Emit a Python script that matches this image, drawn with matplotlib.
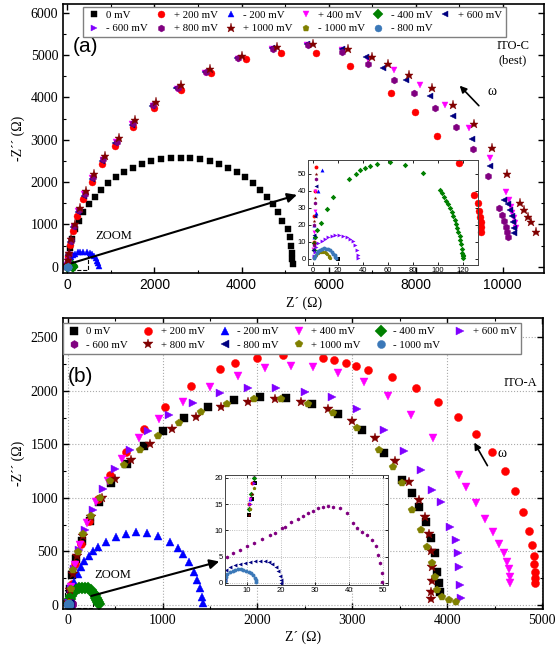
import matplotlib
matplotlib.use("Agg")
import matplotlib.pyplot as plt
from matplotlib.patches import Rectangle
from matplotlib.ticker import MultipleLocator

plt.rcParams['font.family'] = ['Liberation Serif', 'DejaVu Serif']

# ---------------- panel (a) ITO-C ----------------
a_labels = ['0 mV', '+ 200 mV', '- 200 mV', '+ 400 mV', '- 400 mV', '+ 600 mV',
            '- 600 mV', '+ 800 mV', '+ 1000 mV', '- 1000 mV', '- 800 mV']
a_markers = ['s', 'o', '^', 'v', 'D', '<', '>', 'h', '*', 'p', 'o']
a_colors = ['black', '#ff0000', '#0000ff', '#ff00ff', '#008000', '#000080',
            '#8000ff', '#800080', '#800000', '#808000', '#3b78b8']

a0_x = [20, 59, 108, 175, 262, 366, 487, 624, 776, 941, 1119, 1310, 1509, 1718, 1932, 2152, 2375, 2600,
        2825, 3048, 3268, 3482, 3691, 3890, 4081, 4259, 4424, 4576, 4713, 4834, 4938, 5060, 5110, 5140, 5160, 5170, 5175]
a0_y = [0, 449, 668, 882, 1090, 1290, 1480, 1658, 1824, 1976, 2113, 2234, 2338, 2424, 2492, 2541, 2570, 2580,
        2570, 2541, 2492, 2424, 2338, 2234, 2113, 1976, 1824, 1658, 1480, 1290, 1090, 900, 700, 500, 330, 180, 60]
a1_x = [0.5, 1, 1.5, 2, 8, 20, 60, 130, 230, 370, 560, 800, 1100, 1500, 2000, 2600, 3300, 4100, 4900, 5700, 6500,
        7425, 7980, 8500, 8990, 9330, 9420, 9460, 9480, 9490, 9500, 9500]
a1_y = [10, 25, 40, 54, 130, 250, 520, 850, 1200, 1600, 2000, 2420, 2850, 3300, 3750, 4180, 4580, 4900, 5060, 5040, 4750,
        4110, 3660, 3100, 2460, 1700, 1500, 1330, 1180, 1050, 930, 820]
a2_x = [0.5, 1, 2, 4, 7, 15, 30, 55, 90, 130, 180, 240, 300, 370, 440, 510, 570, 620, 660, 690, 710, 720]
a2_y = [13, 20, 27, 40, 52, 90, 140, 190, 240, 280, 315, 340, 352, 356, 350, 330, 295, 250, 200, 140, 80, 20]
a3_x = [0.3, 0.8, 1.3, 1.8, 10, 28, 75, 150, 250, 390, 575, 815, 1115, 1490, 1960, 2520, 3170, 3920, 4710, 5510, 6300,
        6900, 7490, 8090, 8670, 9220, 9700, 10070, 10140, 10190, 10220, 10250, 10270, 10300]
a3_y = [6, 16, 28, 40, 140, 290, 600, 950, 1320, 1710, 2110, 2520, 2940, 3370, 3800, 4210, 4590, 4920, 5150, 5240, 5130,
        4900, 4660, 4300, 3830, 3290, 2580, 1770, 1580, 1420, 1280, 1150, 1030, 920]
a4_x = [0.5, 1, 1.6, 3, 6, 11, 16.3, 29, 34.4, 38, 42, 45.6, 51.5, 61.6, 73.6, 87.7, 102, 103.5, 105, 106.5, 108,
        109.5, 111, 112.3, 113.5, 114.6, 115.6, 116.5, 117.4, 118.1, 118.7, 119.2, 119.6, 119.9, 120.1, 120.2]
a4_y = [5, 9, 13, 17, 21, 29, 36.3, 47, 50, 52, 53.3, 54.3, 55.7, 56.9, 55.3, 50.4, 40.6, 38.5, 36.3, 34.1, 31.9,
        29.6, 27.3, 25, 22.7, 20.4, 18, 15.6, 13.2, 10.8, 8.4, 6, 3.6, 2.5, 1.5, 0.5]
a5_x = [0.3, 0.7, 1.2, 2, 9, 25, 70, 140, 240, 380, 560, 800, 1100, 1480, 1950, 2500, 3150, 3900, 4700, 5500, 6300,
        6850, 7260, 7770, 8320, 8850, 9300, 9700, 10020, 10110, 10160, 10200, 10230, 10250, 10260]
a5_y = [5, 14, 25, 43, 130, 280, 580, 930, 1290, 1680, 2080, 2500, 2920, 3360, 3800, 4220, 4600, 4940, 5180, 5270, 5150,
        4950, 4700, 4420, 4040, 3570, 3020, 2390, 1580, 1480, 1340, 1200, 1070, 920, 800]
a6_x = [0.4, 1.2, 2.5, 4.3, 6.9, 9.6, 12.3, 14.9, 17.6, 21.1, 24.3, 26.9, 29.6, 31.7, 33.6, 34.9, 36.0, 36.3]
a6_y = [1.5, 4.2, 7, 9.2, 10.6, 11.8, 12.7, 13.3, 13.9, 14.1, 13.5, 12.7, 11.6, 10.2, 7.8, 5.3, 2.4, 0.4]
a7_x = [0.4, 0.9, 1.5, 2.2, 11, 30, 80, 155, 260, 400, 590, 830, 1130, 1500, 1970, 2530, 3180, 3930, 4720, 5520, 6300,
        6900, 7490, 7950, 8440, 8920, 9320, 9650, 9910, 9980, 10030, 10070, 10100, 10110]
a7_y = [8, 20, 33, 47, 150, 300, 620, 970, 1340, 1730, 2130, 2540, 2960, 3390, 3820, 4230, 4610, 4930, 5150, 5230, 5080,
        4780, 4420, 4110, 3760, 3310, 2780, 2150, 1390, 1220, 1080, 950, 830, 710]
a8_x = [0.5, 1, 1.6, 2.3, 12, 35, 90, 170, 280, 430, 620, 870, 1180, 1560, 2040, 2610, 3270, 4020, 4820, 5630, 6450,
        7000, 7360, 7840, 8370, 8850, 9330, 9750, 10090, 10390, 10480, 10570, 10640, 10760]
a8_y = [9, 22, 36, 50, 160, 320, 650, 1010, 1390, 1790, 2190, 2610, 3040, 3470, 3900, 4300, 4670, 4980, 5190, 5270, 5150,
        4960, 4780, 4540, 4230, 3830, 3380, 2800, 2200, 1510, 1350, 1180, 1060, 830]
a9_x = [0.5, 1.5, 2.7, 4.0, 5.3, 6.6, 7.9, 9.2, 10.4, 11.5, 12.4, 13.0, 13.4]
a9_y = [0.4, 1.5, 2.5, 3.2, 3.7, 4.0, 4.0, 3.8, 3.3, 2.6, 1.8, 1.0, 0.3]
a10_x = [0.5, 1.5, 2.8, 4.2, 5.8, 7.4, 9.0, 10.6, 12.2, 13.8, 15.2, 16.4, 17.3, 17.9, 18.2]
a10_y = [0.5, 1.8, 3.2, 4.4, 5.3, 5.9, 6.1, 6.0, 5.6, 4.9, 4.0, 3.0, 2.0, 1.1, 0.3]

a_x = [a0_x, a1_x, a2_x, a3_x, a4_x, a5_x, a6_x, a7_x, a8_x, a9_x, a10_x]
a_y = [a0_y, a1_y, a2_y, a3_y, a4_y, a5_y, a6_y, a7_y, a8_y, a9_y, a10_y]

# ---------------- panel (b) ITO-A ----------------
b_labels = ['0 mV', '+ 200 mV', '- 200 mV', '+ 400 mV', '- 400 mV', '+ 600 mV',
            '- 600 mV', '+ 800 mV', '- 800 mV', '+ 1000 mV', '- 1000 mV']
b_markers = ['s', 'o', '^', 'v', 'D', '>', 'h', '*', '<', 'p', 'o']
b_colors = ['black', '#ff0000', '#0000ff', '#ff00ff', '#008000', '#8000ff',
            '#800080', '#800000', '#000080', '#808000', '#3b78b8']

b0_x = [10.5, 11.5, 12.5, 25, 50, 90, 150, 230, 330, 460, 620, 800, 1000, 1230, 1480, 1750, 2030, 2300, 2580,
        2850, 3100, 3330, 3526, 3630, 3704, 3777, 3830, 3872, 3893, 3914, 3924]
b0_y = [13, 16, 19, 150, 280, 430, 600, 780, 960, 1140, 1320, 1480, 1620, 1750, 1850, 1910, 1940, 1930, 1880,
        1780, 1630, 1420, 1166, 1045, 914, 774, 625, 485, 308, 205, 120]
b1_x = [10.5, 11.5, 40, 80, 140, 220, 320, 450, 610, 800, 1030, 1300, 1600, 1763, 2000, 2266, 2686, 2812, 2938,
        3043, 3169, 3420, 3670, 3900, 4110, 4300, 4470, 4610, 4720, 4800, 4860, 4890, 4910, 4920, 4925, 4930, 4930]
b1_y = [15, 19, 190, 380, 570, 780, 990, 1210, 1430, 1640, 1850, 2050, 2200, 2257, 2310, 2332, 2304, 2285, 2257,
        2230, 2192, 2130, 2030, 1900, 1760, 1600, 1430, 1250, 1060, 870, 690, 560, 460, 380, 310, 250, 200]
b2_x = [11, 13, 40, 70, 105, 136, 175, 220, 265, 315, 399, 504, 609, 724, 839, 955, 1081, 1165, 1217, 1280,
        1333, 1364, 1396, 1417, 1427]
b2_y = [16, 25, 120, 210, 290, 350, 410, 460, 505, 540, 590, 634, 662, 676, 674, 645, 590, 532, 476, 401,
        308, 233, 159, 75, 20]
b3_x = [11, 12, 35, 75, 130, 205, 300, 420, 570, 750, 960, 1210, 1500, 1800, 2078, 2350, 2581, 2850, 3120,
        3380, 3620, 3850, 4124, 4197, 4300, 4400, 4480, 4550, 4600, 4630, 4650, 4660, 4665]
b3_y = [16, 20, 170, 370, 560, 760, 960, 1160, 1360, 1560, 1740, 1900, 2040, 2140, 2211, 2230, 2220, 2170, 2080,
        1950, 1770, 1560, 1213, 1100, 950, 800, 680, 570, 480, 400, 330, 260, 200]
b4_x = [10.5, 11.3, 12.2, 14, 20, 35, 60, 90, 120, 150, 180, 210, 240, 265, 285, 300, 312, 320, 325]
b4_y = [14, 17, 20, 30, 50, 85, 115, 138, 153, 160, 160, 152, 135, 112, 88, 65, 42, 22, 5]
b5_x = [11, 12, 30, 65, 115, 180, 265, 370, 500, 660, 850, 1070, 1320, 1600, 1900, 2200, 2500, 2791, 3050,
        3337, 3540, 3725, 3840, 3935, 4030, 4092, 4113, 4125, 4134, 4145]
b5_y = [15, 19, 150, 330, 510, 700, 890, 1080, 1270, 1450, 1620, 1770, 1890, 1980, 2030, 2030, 1990, 1944, 1830,
        1630, 1440, 1259, 1073, 961, 728, 606, 480, 354, 187, 65]
b6_x = [4.2, 6, 8, 10, 12, 14.5, 16.8, 18.2, 20.3, 21.2, 23, 25, 26.5, 27.9, 29.4, 30.9, 32.4, 33.8, 35.3, 37.4,
        39.4, 41.2, 42.5, 43.8, 45.3, 46.8, 47.9, 48.5, 49.1, 49.7, 49.7]
b6_y = [5, 5.7, 6.3, 7, 7.6, 8.3, 9.1, 9.5, 10.5, 10.7, 11.5, 12.2, 12.8, 13.3, 13.7, 14.3, 14.5, 14.7, 14.5, 14.3,
        13.3, 11.4, 10.5, 9.7, 9.1, 8.2, 7, 5.3, 3.8, 1.9, 0.2]
b7_x = [10.5, 11.5, 25, 55, 100, 165, 250, 360, 500, 670, 870, 1100, 1350, 1620, 1900, 2180, 2460, 2740, 3000,
        3240, 3450, 3600, 3700, 3770, 3810, 3830, 3840, 3835, 3830, 3828]
b7_y = [13, 17, 140, 290, 460, 640, 820, 1000, 1180, 1350, 1500, 1640, 1760, 1850, 1900, 1920, 1900, 1830, 1720,
        1560, 1340, 1150, 980, 820, 660, 500, 350, 220, 120, 50]
b8_x = [3.6, 3.7, 4.0, 5, 6.5, 8, 9.5, 11, 12.5, 14, 15.3, 16.5, 17.5, 18.5, 19.2, 19.7, 20, 20.1]
b8_y = [0.5, 1.5, 2.4, 3.0, 3.3, 3.5, 3.7, 3.9, 4.1, 4.2, 4.2, 4.0, 3.6, 3.0, 2.2, 1.3, 0.5, 0.0]
b9_x = [11, 12, 30, 60, 105, 165, 240, 335, 450, 590, 760, 950, 1170, 1410, 1680, 1960, 2250, 2530, 2800,
        3050, 3280, 3430, 3526, 3630, 3725, 3788, 3840, 3872, 3893, 3945, 4018, 4092]
b9_y = [14, 18, 150, 320, 490, 660, 830, 1000, 1160, 1310, 1450, 1580, 1700, 1800, 1880, 1920, 1920, 1880, 1790,
        1650, 1450, 1290, 1138, 886, 700, 541, 392, 261, 140, 75, 47, 28]
b10_x = [3.6, 3.8, 4.3, 5, 5.8, 6.6, 7.4, 8.2, 9, 9.8, 10.6, 11.3, 11.9, 12.3, 12.6, 12.8]
b10_y = [0.3, 1.0, 1.6, 2.0, 2.3, 2.5, 2.6, 2.6, 2.5, 2.3, 2.1, 1.8, 1.4, 0.9, 0.5, 0.1]

b_x = [b0_x, b1_x, b2_x, b3_x, b4_x, b5_x, b6_x, b7_x, b8_x, b9_x, b10_x]
b_y = [b0_y, b1_y, b2_y, b3_y, b4_y, b5_y, b6_y, b7_y, b8_y, b9_y, b10_y]


def row_order(items):
    # legend fills column by column; reorder so it reads row by row
    top, bottom = items[:6], items[6:]
    out = []
    for i in range(6):
        out.append(top[i])
        if i < len(bottom):
            out.append(bottom[i])
    return out


def style_axes(ax, size=10):
    ax.tick_params(which='both', direction='in', top=True, right=True, labelsize=size)
    ax.tick_params(which='major', length=4, width=1)
    ax.tick_params(which='minor', length=2.5, width=0.8)
    for s in ax.spines.values():
        s.set_linewidth(1.2)


def draw_series(ax, xs, ys, labels, mks, cols, ms):
    handles = []
    for i in range(len(xs)):
        size = ms * 1.35 if mks[i] == '*' else ms
        h, = ax.plot(xs[i], ys[i], ls='none', marker=mks[i], color=cols[i],
                     markersize=size, markeredgewidth=0.3, label=labels[i])
        handles.append(h)
    return handles


def draw_inset(ax, xs, ys, mks, cols):
    for i in range(len(xs)):
        ax.plot(xs[i], ys[i], ls='none', marker=mks[i], color=cols[i], markersize=2.8, markeredgewidth=0)
    ax.tick_params(direction='in', labelsize=5.5, length=2, width=0.6, pad=1.5, top=True, right=True)
    for t in ax.get_xticklabels() + ax.get_yticklabels():
        t.set_family('Liberation Sans')
    for s in ax.spines.values():
        s.set_linewidth(0.7)
        s.set_color('#444444')


leg_kw = dict(ncol=6, loc='upper left', fontsize=7.8, frameon=True, fancybox=False, edgecolor='gray',
              borderaxespad=0, handlelength=1.3, handletextpad=0.5,
              labelspacing=0.35, borderpad=0.35, framealpha=1)

fig = plt.figure(figsize=(5.55, 6.52), dpi=100)

# ---------- (a) ----------
axa = fig.add_axes([0.1135, 0.581, 0.867, 0.413])
ha = draw_series(axa, a_x, a_y, a_labels, a_markers, a_colors, 5)
axa.set_xlim(-100, 10950)
axa.set_ylim(-150, 6210)
axa.xaxis.set_major_locator(MultipleLocator(2000))
axa.xaxis.set_minor_locator(MultipleLocator(1000))
axa.yaxis.set_major_locator(MultipleLocator(1000))
axa.yaxis.set_minor_locator(MultipleLocator(500))
style_axes(axa)
for t in axa.get_xticklabels():
    t.set_family('Liberation Sans')
axa.set_xlabel('Z´ (Ω)', fontsize=10, labelpad=3)
axa.set_ylabel('-Z´´ (Ω)', fontsize=10, labelpad=4)
axa.legend(row_order(ha), row_order(a_labels), bbox_to_anchor=(0.042, 0.99), columnspacing=0.55, **leg_kw)
axa.text(0.02, 0.84, '(a)', transform=axa.transAxes, fontsize=15, family='Liberation Sans', va='center')
axa.text(0.935, 0.865, 'ITO-C\n(best)', transform=axa.transAxes, fontsize=9, ha='center', va='top')
axa.text(1057, 733, 'ZOOM', fontsize=9, ha='center', va='center')
axa.annotate('', xy=(8966, 4326), xytext=(9494, 3759),
             arrowprops=dict(arrowstyle='-|>', color='black', lw=1.2, mutation_scale=10))
axa.text(9640, 4137, 'ω', fontsize=10, ha='left', va='center')
axa.add_patch(Rectangle((-50, -80), 530, 410, fill=False, ls='--', lw=0.8, ec='black'))
axa.annotate('', xy=(5333, 1718), xytext=(46, 70),
             arrowprops=dict(arrowstyle='-|>', color='black', lw=1.5, mutation_scale=14))

# inset (a)
ina = fig.add_axes([0.555, 0.594, 0.306, 0.161])
ina.set_facecolor('none')
ina.set_xlim(-4, 132)
ina.set_ylim(-3.5, 58.2)
ina.xaxis.set_major_locator(MultipleLocator(20))
ina.yaxis.set_major_locator(MultipleLocator(10))
draw_inset(ina, a_x, a_y, a_markers, a_colors)

# ---------- (b) ----------
axb = fig.add_axes([0.1135, 0.066, 0.864, 0.446])
axb.grid(True, ls=':', color='#aaaaaa', lw=0.8)
axb.set_axisbelow(True)
hb = draw_series(axb, b_x, b_y, b_labels, b_markers, b_colors, 5.8)
axb.set_xlim(-50, 5005)
axb.set_ylim(-40, 2680)
axb.xaxis.set_major_locator(MultipleLocator(1000))
axb.xaxis.set_minor_locator(MultipleLocator(500))
axb.yaxis.set_major_locator(MultipleLocator(500))
axb.yaxis.set_minor_locator(MultipleLocator(250))
style_axes(axb)
axb.set_xlabel('Z´ (Ω)', fontsize=10, labelpad=3)
axb.set_ylabel('-Z´´ (Ω)', fontsize=10, labelpad=4)
axb.legend(row_order(hb), row_order(b_labels), bbox_to_anchor=(0.0, 0.983), columnspacing=1.2, **leg_kw)
axb.text(0.01, 0.80, '(b)', transform=axb.transAxes, fontsize=15, family='Liberation Sans', va='center')
axb.text(0.954, 0.777, 'ITO-A', transform=axb.transAxes, fontsize=9, ha='center', va='center')
axb.text(472, 280, 'ZOOM', fontsize=9, ha='center', va='center')
axb.annotate('', xy=(4271, 1539), xytext=(4439, 1278),
             arrowprops=dict(arrowstyle='-|>', color='black', lw=1.2, mutation_scale=10))
axb.text(4530, 1418, 'ω', fontsize=10, ha='left', va='center')
axb.add_patch(Rectangle((-30, -30), 292, 170, fill=False, ls='--', lw=0.8, ec='black'))
axb.annotate('', xy=(1625, 411), xytext=(220, 75),
             arrowprops=dict(arrowstyle='-|>', color='black', lw=1.5, mutation_scale=14))

# inset (b)
inb = fig.add_axes([0.405, 0.103, 0.294, 0.169])
inb.set_facecolor('white')
inb.grid(True, ls=':', color='#aaaaaa', lw=0.6)
inb.set_axisbelow(True)
inb.set_xlim(3.5, 51.5)
inb.set_ylim(-0.4, 20.6)
inb.xaxis.set_major_locator(MultipleLocator(10))
inb.yaxis.set_major_locator(MultipleLocator(5))
draw_inset(inb, b_x, b_y, b_markers, b_colors)

fig.savefig('out.png', dpi=100)
